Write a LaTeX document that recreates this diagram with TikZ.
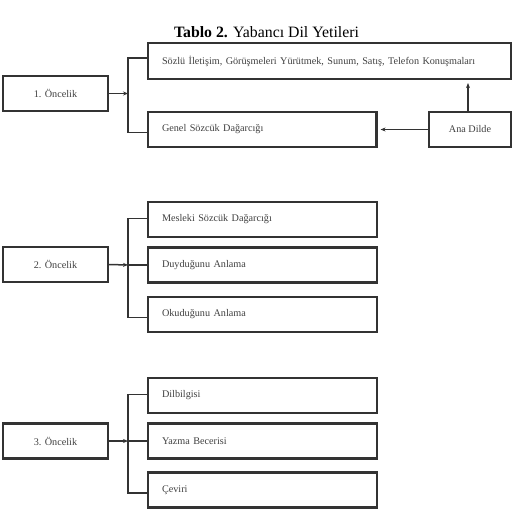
\documentclass[tikz,border=0pt]{standalone}
\usepackage{fontspec}
\setmainfont{Liberation Serif}
\usetikzlibrary{arrows.meta}
\definecolor{lin}{HTML}{333333}
\definecolor{txt}{HTML}{404040}
\tikzset{
  box/.style={draw=lin, line width=2.2pt, minimum height=35pt, inner sep=0pt, text=txt, font=\fontsize{10.2}{12}\selectfont},
  lbox/.style={box, minimum width=#1, text width=#1-28pt, inner xsep=14pt, align=left},
  cbox/.style={box, minimum width=#1, align=center},
  conn/.style={draw=lin, line width=1.5pt},
  arr/.style={conn, -{Stealth[length=5pt,width=4pt]}},
}
\begin{document}
\begin{tikzpicture}[x=1pt,y=-1pt]
\useasboundingbox (0,0) rectangle (520,509);
\node[font=\fontsize{15.8}{18}\selectfont, text=black] (title) at (266.5,32) {\textbf{Tablo 2.} Yabancı Dil Yetileri};
% group 1
\node[cbox=105pt] (p1) at (55.5,93.5) {1. Öncelik};
\node[lbox=363pt, minimum height=36pt] (s1) at (329.5,61) {Sözlü İletişim, Görüşmeleri Yürütmek, Sunum, Satış, Telefon Konuşmaları};
\node[lbox=228.5pt] (g1) at (262.25,129.5) {Genel Sözcük Dağarcığı};
\node[cbox=82pt] (ana) at (470,129.5) {Ana Dilde};
\coordinate (j1) at (128,93.5);
\draw[arr] (p1.east) -- (j1);
\draw[conn] ([yshift=3pt]s1.west) -| (j1) |- ([yshift=-3pt]g1.west);
\draw[arr, shorten >=3pt] (ana.west) -- (g1.east);
\draw[arr, shorten >=3pt] ([xshift=-2pt]ana.north) -- ([xshift=-2pt]ana.north |- s1.south);
% group 2
\node[cbox=105pt] (p2) at (55.5,264.5) {2. Öncelik};
\node[lbox=229pt] (m2) at (262.5,219.5) {Mesleki Sözcük Dağarcığı};
\node[lbox=229pt] (d2) at (262.5,265) {Duyduğunu Anlama};
\node[lbox=229pt] (o2) at (262.5,314.5) {Okuduğunu Anlama};
\coordinate (j2) at (128,265);
\draw[arr] (p2.east) -- (j2);
\draw[conn] ([yshift=1pt]m2.west) -| (j2) |- ([yshift=-3pt]o2.west);
\draw[conn] (d2.west) -- (j2);
% group 3
\node[cbox=105pt] (p3) at (55.5,441) {3. Öncelik};
\node[lbox=229pt] (b3) at (262.5,395.5) {Dilbilgisi};
\node[lbox=229pt] (y3) at (262.5,441) {Yazma Becerisi};
\node[lbox=229pt] (c3) at (262.5,490) {Çeviri};
\coordinate (j3) at (128,441);
\draw[arr] (p3.east) -- (j3);
\draw[conn] ([yshift=1pt]b3.west) -| (j3) |- ([yshift=-3pt]c3.west);
\draw[conn] (y3.west) -- (j3);
\end{tikzpicture}
\end{document}
